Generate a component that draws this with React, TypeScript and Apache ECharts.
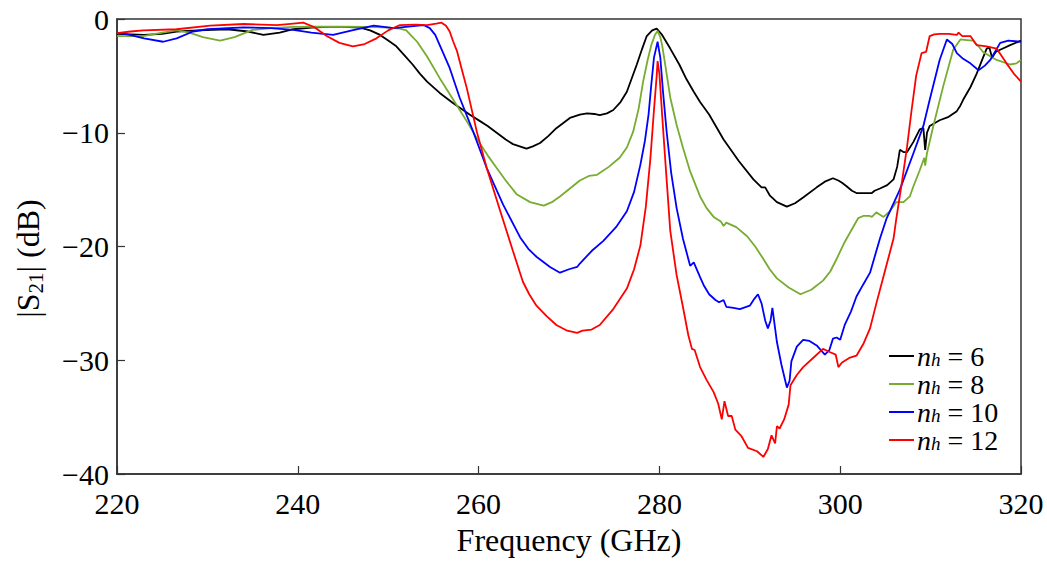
import React, { useEffect, useRef } from "react";
import * as echarts from "echarts";

const xTicks = [220, 240, 260, 280, 300, 320];
const yTicks = [-40, -30, -20, -10, 0];
const seriesNames = ["6", "8", "10", "12"];
const seriesColors = ["#000000", "#77AC30", "#0000FF", "#FF0000"];

const black: [number, number][] = [
  [220,-1.3],[221.5,-1.35],[223,-1.4],[225,-1.3],[226.6,-1.1],[229,-1.0],[232.2,-0.9],[234.5,-1.1],[236.2,-1.4],[238,-1.2],[239.5,-0.9],[241.5,-0.75],[243.4,-0.7],[245,-0.7],[246.9,-0.75],[248,-1.0],[249.1,-1.4],[250,-1.9],[250.9,-2.4],[251.8,-3.2],[252.7,-4.0],[253.5,-4.8],[254.3,-5.5],[255.7,-6.5],[257.2,-7.4],[259.0,-8.4],[260.2,-9.0],[261,-9.4],[262.0,-10.0],[263,-10.6],[263.8,-11.0],[265.3,-11.4],[266,-11.2],[266.8,-10.9],[267.7,-10.3],[268.6,-9.6],[270.1,-8.7],[271.2,-8.4],[272.0,-8.3],[272.8,-8.35],[273.4,-8.45],[274.2,-8.3],[274.9,-8.0],[275.7,-7.3],[276.4,-6.4],[277.5,-4.0],[278.1,-2.6],[278.6,-1.5],[279.2,-1.0],[279.7,-0.85],[280.3,-1.4],[281.2,-2.6],[282.2,-4.0],[283.0,-5.3],[283.8,-6.4],[284.5,-7.3],[285.5,-8.4],[287.1,-10.6],[288.8,-12.5],[290.4,-14.1],[291.3,-14.8],[291.7,-14.8],[292.2,-15.5],[293,-16.1],[294.1,-16.5],[295,-16.2],[295.9,-15.7],[297.4,-14.8],[298.3,-14.3],[299.2,-14.0],[299.8,-14.2],[300.2,-14.4],[300.7,-14.7],[301.3,-15.1],[301.8,-15.3],[302.8,-15.3],[303.5,-15.3],[303.8,-15.1],[304.4,-14.9],[305.2,-14.6],[305.9,-14.1],[306.3,-13.0],[306.6,-11.5],[307,-11.7],[307.4,-11.7],[308.1,-10.8],[308.8,-9.7],[309.2,-9.6],[309.4,-11.5],[309.6,-10.0],[309.9,-9.4],[311,-8.9],[312,-8.6],[312.9,-8.1],[313.3,-7.6],[313.6,-7.1],[314.4,-6.0],[315.1,-4.8],[315.7,-3.6],[316.2,-2.6],[316.5,-2.5],[316.8,-3.4],[317.2,-2.9],[317.7,-2.7],[318.8,-2.3],[320,-1.9]
];

const green: [number, number][] = [
  [220,-1.5],[221.5,-1.5],[222.9,-1.5],[225,-1.2],[226.6,-1.0],[228,-1.2],[229.5,-1.6],[231.4,-1.9],[233,-1.6],[235,-0.96],[237,-0.8],[239.5,-0.7],[242,-0.68],[245,-0.67],[248,-0.7],[250,-0.75],[251.3,-0.85],[252,-1.0],[252.6,-1.5],[253.2,-2.0],[254.3,-3.3],[255.7,-5.2],[257.2,-7.1],[258.7,-9.0],[260.2,-11.0],[261.1,-12.1],[262.0,-13.1],[263.1,-14.3],[264.2,-15.4],[265.7,-16.1],[267.2,-16.4],[268.1,-16.1],[269.0,-15.6],[270.1,-14.9],[271.2,-14.2],[272.2,-13.8],[273.1,-13.7],[274.4,-13.0],[275.6,-12.2],[276.4,-11.3],[277.1,-9.9],[277.7,-7.9],[278.2,-5.5],[278.7,-3.6],[279.1,-2.3],[279.5,-1.4],[279.8,-1.05],[280.1,-1.6],[280.3,-2.3],[280.7,-4.3],[281.2,-6.9],[281.9,-9.3],[282.6,-11.3],[283.4,-13.4],[284.5,-15.6],[285.2,-16.6],[286.0,-17.4],[286.8,-17.8],[287.1,-18.2],[287.4,-17.9],[288.5,-18.3],[289.7,-19.1],[290.6,-20.0],[291.5,-21.1],[292.2,-22.0],[293.0,-22.8],[294.3,-23.6],[295.6,-24.2],[296.8,-23.8],[298.1,-23.0],[298.9,-22.2],[299.6,-21.1],[300.5,-19.6],[301.5,-18.2],[302.0,-17.5],[302.6,-17.3],[303.2,-17.3],[303.5,-17.4],[304.0,-17.0],[304.4,-17.2],[304.8,-17.4],[305.5,-16.9],[306.2,-16.1],[307.0,-16.1],[307.7,-15.6],[308.1,-14.7],[308.8,-13.3],[309.3,-12.2],[309.4,-12.9],[309.6,-11.8],[310.3,-9.4],[311.4,-5.9],[312.5,-2.7],[313.3,-1.8],[314,-1.85],[314.7,-1.9],[315.3,-2.4],[315.8,-2.9],[317.3,-3.6],[318.8,-4.0],[319.5,-3.9],[320,-3.6]
];

const blue: [number, number][] = [
  [220,-1.2],[221.4,-1.4],[223,-1.7],[225.1,-2.0],[226.6,-1.7],[228.4,-1.1],[230,-0.9],[234,-0.73],[237,-0.8],[239.5,-0.96],[241.5,-1.2],[243.9,-1.4],[246,-1.0],[248.4,-0.58],[250.6,-0.8],[252.5,-0.65],[253.9,-0.53],[254.6,-0.8],[255.2,-1.4],[255.7,-2.3],[256.8,-4.3],[257.9,-6.9],[259.4,-9.9],[260.9,-13.1],[262.7,-16.3],[264.6,-19.2],[265.5,-20.2],[266.4,-20.9],[267.9,-21.8],[269.0,-22.3],[270.0,-22.0],[270.9,-21.8],[271.2,-21.5],[272.5,-20.4],[273.8,-19.5],[275.2,-18.3],[276.4,-16.9],[277.2,-15.2],[277.9,-12.8],[278.4,-10.7],[278.8,-8.4],[279.1,-5.8],[279.4,-3.4],[279.8,-2.0],[280.1,-3.4],[280.4,-6.4],[280.8,-9.9],[281.3,-13.5],[281.9,-16.6],[282.6,-19.3],[283.4,-21.7],[283.8,-21.4],[284.5,-22.7],[284.9,-23.4],[285.5,-24.2],[286.2,-24.7],[286.6,-24.9],[287.1,-24.7],[287.4,-25.3],[288.2,-25.4],[288.9,-25.5],[290.0,-25.2],[290.5,-24.6],[290.9,-24.2],[291.3,-25.0],[291.7,-26.5],[292.0,-27.2],[292.3,-26.5],[292.5,-25.4],[292.7,-26.6],[293.0,-28.4],[293.5,-30.4],[294.1,-32.4],[294.4,-31.8],[294.6,-30.1],[295.2,-28.8],[295.9,-28.2],[296.6,-28.3],[297.4,-28.7],[298.3,-29.5],[298.8,-29.1],[299.2,-28.1],[299.6,-28.0],[300.0,-28.2],[300.5,-26.9],[301.2,-25.7],[301.8,-24.4],[302.5,-23.4],[303.3,-22.3],[304.4,-19.3],[305.1,-17.6],[306.6,-15.0],[308.1,-11.8],[309.2,-9.4],[309.9,-7.1],[311.0,-3.6],[311.8,-1.8],[312.4,-2.2],[312.9,-3.0],[313.6,-3.5],[314.4,-3.9],[315.3,-4.5],[316.0,-4.1],[316.6,-3.6],[317.7,-2.1],[318.6,-1.9],[320,-2.0]
];

const red: [number, number][] = [
  [220,-1.25],[221.5,-1.1],[222.9,-1.0],[226.6,-0.9],[230.3,-0.58],[234.0,-0.44],[237.7,-0.53],[239.5,-0.4],[240.6,-0.32],[241.8,-0.7],[243.2,-1.5],[244.6,-2.1],[246.1,-2.4],[247.4,-2.2],[248.7,-1.7],[250,-1.0],[251.3,-0.53],[253,-0.5],[254.3,-0.53],[255.3,-0.4],[255.9,-0.32],[256.4,-0.6],[256.8,-1.1],[257.2,-2.0],[257.6,-2.8],[258.1,-4.3],[258.7,-6.1],[259.8,-9.9],[260.9,-13.1],[262.4,-16.9],[263.8,-20.4],[264.9,-23.1],[265.6,-24.2],[266.4,-25.2],[267.5,-26.1],[268.6,-26.9],[269.8,-27.4],[270.9,-27.6],[271.5,-27.4],[272.5,-27.3],[273.4,-26.9],[274.9,-25.5],[276.4,-23.7],[277.2,-22.0],[277.9,-19.9],[278.5,-16.5],[279.0,-12.3],[279.4,-8.0],[279.7,-5.0],[279.8,-3.7],[280.0,-4.8],[280.3,-8.4],[280.7,-13.0],[281.2,-18.6],[281.9,-22.5],[282.6,-25.3],[283.2,-27.8],[283.6,-29.0],[283.9,-29.1],[284.5,-30.6],[285.2,-31.7],[286.0,-32.8],[286.5,-33.8],[286.9,-35.2],[287.2,-33.6],[287.6,-34.9],[288.0,-34.9],[288.4,-36.1],[289.1,-36.7],[289.8,-37.7],[290.8,-38.0],[291.5,-38.5],[292.0,-37.8],[292.4,-36.6],[292.8,-37.3],[293.0,-35.8],[293.3,-36.0],[293.8,-35.2],[294.3,-33.9],[294.5,-32.2],[295.2,-31.3],[295.9,-30.6],[297,-29.8],[298.1,-29.0],[298.9,-29.3],[299.5,-29.5],[299.8,-30.6],[300.2,-30.2],[301.0,-29.8],[301.8,-29.6],[302.6,-28.5],[303.3,-27.2],[304.0,-25.0],[305.0,-22.0],[305.9,-19.3],[306.2,-17.6],[306.8,-14.5],[307.4,-11.2],[307.9,-8.0],[308.4,-5.0],[309.0,-3.0],[309.5,-2.9],[309.9,-1.5],[310.4,-1.35],[311.0,-1.3],[312.0,-1.3],[312.9,-1.4],[313.1,-1.2],[313.5,-1.5],[314.4,-1.5],[315.1,-2.3],[316.2,-2.4],[317.3,-2.6],[318.4,-3.9],[319.2,-4.8],[320,-5.5]
];

const seriesData = [black, green, blue, red];

const FONT = "Liberation Serif, Times New Roman, serif";

export default function App() {
  const ref = useRef<HTMLDivElement>(null);
  useEffect(() => {
    if (!ref.current) return;
    const chart = echarts.init(ref.current, undefined, { renderer: "svg" });
    const fmtMinus = (v: number) => (v < 0 ? "\u2212" + Math.abs(v) : String(v));
    chart.setOption({
      animation: false,
      backgroundColor: "#ffffff",
      textStyle: { fontFamily: FONT },
      grid: {
        left: 117,
        right: 26,
        top: 19,
        bottom: 85,
        show: true,
        borderColor: "#333333",
        borderWidth: 1.5,
        backgroundColor: "transparent",
      },
      legend: {
        orient: "vertical",
        left: 889,
        top: 342,
        itemWidth: 25,
        itemHeight: 2,
        itemGap: 0,
        icon: "rect",
        padding: 0,
        textStyle: {
          fontFamily: FONT,
          fontSize: 28,
          color: "#000",
          padding: [0, 0, 0, -2],
          rich: {
            n: { fontFamily: FONT, fontSize: 28, fontStyle: "italic", lineHeight: 25, color: "#000" },
            h: { fontFamily: FONT, fontSize: 19, fontStyle: "italic", lineHeight: 11, verticalAlign: "bottom", color: "#000" },
            t: { fontFamily: FONT, fontSize: 28, lineHeight: 25, color: "#000" },
          },
        },
        formatter: (name: string) => `{n|n}{h|h}{t| = ${name.replace("nh = ", "")}}`,
        data: seriesNames.map((s) => "nh = " + s),
      },
      xAxis: {
        type: "value",
        min: 220,
        max: 320,
        interval: 20,
        name: "Frequency (GHz)",
        nameLocation: "middle",
        nameGap: 50,
        nameTextStyle: { fontFamily: FONT, fontSize: 32, color: "#000" },
        axisLine: { show: true, onZero: false, lineStyle: { color: "#333333", width: 1.5 } },
        axisTick: { show: true, inside: true, length: 8, lineStyle: { color: "#333333", width: 1.2 } },
        axisLabel: {
          fontFamily: FONT,
          fontSize: 30,
          color: "#000",
          margin: 14,
          customValues: xTicks,
        },
        splitLine: { show: false },
      },
      yAxis: {
        type: "value",
        min: -40,
        max: 0,
        interval: 10,
        name: "{a||S}{s|21}{a|| (dB)}",
        nameLocation: "middle",
        nameGap: 71,
        nameTextStyle: {
          fontFamily: FONT,
          color: "#000",
          padding: [0, 24, 0, 0],
          rich: {
            a: { fontFamily: FONT, fontSize: 32, lineHeight: 36, color: "#000" },
            s: { fontFamily: FONT, fontSize: 21, lineHeight: 22, verticalAlign: "bottom", color: "#000" },
          },
        },
        axisLine: { show: true, onZero: false, lineStyle: { color: "#333333", width: 1.5 } },
        axisTick: { show: true, inside: true, length: 8, lineStyle: { color: "#333333", width: 1.2 } },
        axisLabel: {
          fontFamily: FONT,
          fontSize: 30,
          color: "#000",
          margin: 8,
          formatter: fmtMinus,
          customValues: yTicks,
        },
        splitLine: { show: false },
      },
      series: seriesData.map((d, i) => ({
        name: "nh = " + seriesNames[i],
        type: "line",
        data: d,
        showSymbol: false,
        symbol: "none",
        smooth: false,
        lineStyle: { color: seriesColors[i], width: 1.8 },
        itemStyle: { color: seriesColors[i] },
        z: 2 + i,
      })),
    });
    return () => chart.dispose();
  }, []);
  return <div ref={ref} style={{ width: 1047, height: 561, position: "absolute", left: 0, top: 0 }} />;
}
